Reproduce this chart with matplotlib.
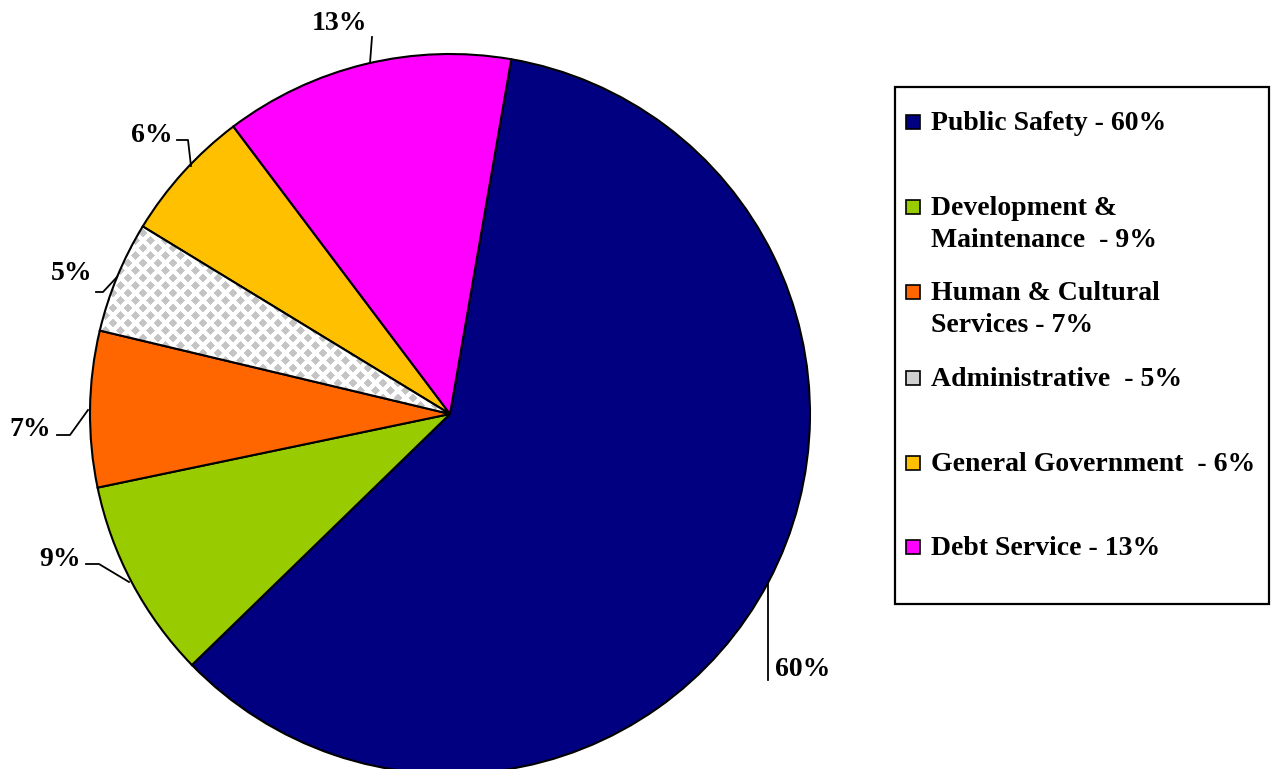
import matplotlib
matplotlib.use("Agg")
import matplotlib.pyplot as plt
import numpy as np
from matplotlib.patches import Rectangle

# Budget shares by category (clockwise from the top)
categories = ["Public Safety", "Development &\nMaintenance", "Human & Cultural\nServices",
              "Administrative", "General Government", "Debt Service"]
legend_labels = ["Public Safety - 60%", "Development &\nMaintenance  - 9%",
                 "Human & Cultural\nServices - 7%", "Administrative  - 5%",
                 "General Government  - 6%", "Debt Service - 13%"]
shares = [60, 9, 7, 5, 6, 13]
colors = ["#000080", "#99cc00", "#ff6600", "#ffffff", "#ffc000", "#ff00ff"]

W, H = 1284, 769
plt.rcParams["font.family"] = ["Liberation Serif", "DejaVu Serif"]
plt.rcParams["font.weight"] = "bold"

fig = plt.figure(figsize=(W / 100, H / 100), dpi=100)

# pie axes: pixels 0..900 wide, full height; centre at (450, 414), radius 360 px
cx, cy, R = 450, 414, 360
ax = fig.add_axes([0, 0, 900 / W, 1])
x0, x1 = -cx / R, (900 - cx) / R
y0, y1 = (cy - H) / R, cy / R

wedges, _ = ax.pie(shares, colors=colors, startangle=80.2, counterclock=False,
                   radius=1, center=(0, 0), frame=True,
                   wedgeprops=dict(edgecolor="black", linewidth=1.5))
ax.set_aspect("equal")
ax.axis("off")

# checkerboard (diamond) fill for Administrative
ny, nx = H, 900
yy, xx = np.mgrid[0:ny, 0:nx]
P, r = 15.0, 4.4
u = (xx + yy) % P
v = (xx - yy) % P
du = np.minimum(u, P - u)
dv = np.minimum(v, P - v)
dist = np.maximum(du, dv)
alpha = np.clip(r + 0.5 - dist, 0, 1)
g = 1 - alpha * (1 - 196 / 255)
pat = np.dstack([g, g, g])
im = ax.imshow(pat, extent=(x0, x1, y0, y1), interpolation="nearest", zorder=1.5, aspect="auto")
im.set_clip_path(wedges[3])
wedges[3].set_zorder(1.6)
wedges[3].set_facecolor("none")
ax.set_xlim(x0, x1)
ax.set_ylim(y0, y1)

# percentage labels with leader lines, positions in pixels
def px(p):
    return ((p[0] - cx) / R, (cy - p[1]) / R)

label_pos = [(803, 670), (60, 559), (30, 429), (72, 274), (152, 135), (340, 24)]
leader_pts = [[(768, 583), (768, 680)],
              [(129, 582), (99, 564), (86, 564)],
              [(88, 410), (70, 435), (57, 435)],
              [(117, 277), (103, 292), (96, 292)],
              [(191, 166), (188, 140), (177, 140)],
              [(370, 63), (372, 37)]]
for s, lp, pts in zip(shares, label_pos, leader_pts):
    pp = [px(p) for p in pts]
    ax.plot([p[0] for p in pp], [p[1] for p in pp], color="black", lw=1.3, zorder=3)
    ax.text(*px(lp), f"{s}%", fontsize=20, fontweight="bold", ha="center", va="center")

# legend drawn in pixel coordinates
lax = fig.add_axes([0, 0, 1, 1])
lax.set_xlim(0, W)
lax.set_ylim(H, 0)
lax.axis("off")
lax.add_patch(Rectangle((895, 87), 374, 517, fill=False, edgecolor="black", lw=1.6))
entry_y = [122, 207, 292, 378, 463, 547]
for lab, col, ey in zip(legend_labels, colors, entry_y):
    fc = "#d0d0d0" if col == "#ffffff" else col
    lax.add_patch(Rectangle((906, ey - 7), 14, 14, facecolor=fc, edgecolor="black", lw=1.2))
    lax.text(931, ey - 11, lab, fontsize=20, fontweight="bold", ha="left", va="top",
             linespacing=1.38)

fig.savefig("out.png", dpi=100)
